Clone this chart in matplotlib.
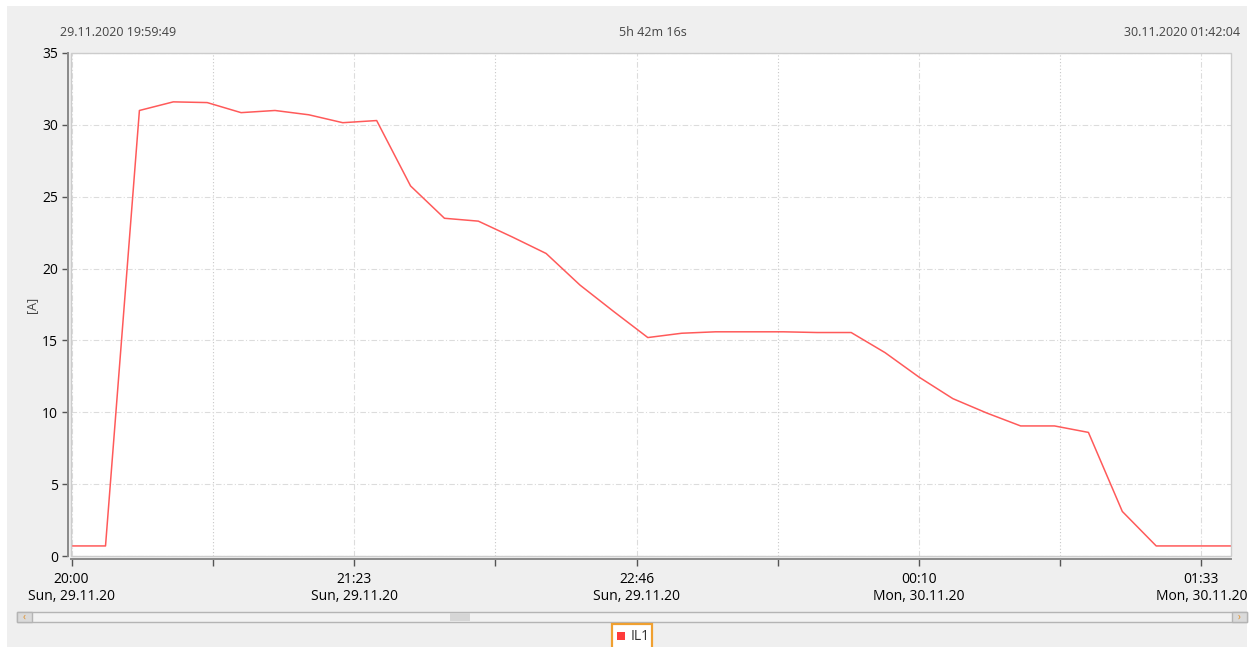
import datetime as dt
import matplotlib
matplotlib.use("Agg")
import matplotlib.pyplot as plt
import matplotlib.dates as mdates
from matplotlib.patches import Rectangle

# measured current IL1, one sample every 10 minutes
times = ["19:50", "20:00", "20:10", "20:20", "20:30", "20:40", "20:50", "21:00", "21:10",
         "21:20", "21:30", "21:40", "21:50", "22:00", "22:10", "22:20", "22:30", "22:40",
         "22:50", "23:00", "23:10", "23:20", "23:30", "23:40", "23:50", "00:00", "00:10",
         "00:20", "00:30", "00:40", "00:50", "01:00", "01:10", "01:20", "01:30", "01:40",
         "01:50"]
il1 = [0.7, 0.7, 0.7, 31.0, 31.6, 31.55, 30.85, 31.0, 30.7,
       30.15, 30.3, 25.75, 23.5, 23.3, 22.2, 21.05, 18.85, 17.0,
       15.2, 15.5, 15.6, 15.6, 15.6, 15.55, 15.55, 14.15, 12.45,
       10.95, 9.95, 9.05, 9.05, 8.6, 3.1, 0.7, 0.7, 0.7,
       0.7]

range_start = "19:59:49"
range_end = "01:42:04"
range_label_left = "29.11.2020 19:59:49"
range_label_mid = "5h 42m 16s"
range_label_right = "30.11.2020 01:42:04"

major_ticks = ["20:00:00", "21:23:20", "22:46:40", "00:10:00", "01:33:20"]
minor_ticks = ["20:41:40", "22:05:00", "23:28:20", "00:51:40"]
tick_labels = ["20:00\nSun, 29.11.20", "21:23\nSun, 29.11.20", "22:46\nSun, 29.11.20",
               "00:10\nMon, 30.11.20", "01:33\nMon, 30.11.20"]
y_ticks = [0, 5, 10, 15, 20, 25, 30, 35]
series_name = "IL1"


def to_dt(s):
    parts = [int(p) for p in s.split(":")]
    while len(parts) < 3:
        parts.append(0)
    day = 29 if parts[0] >= 12 else 30
    return dt.datetime(2020, 11, day, parts[0], parts[1], parts[2])


W, H = 1253, 647
plt.rcParams['font.family'] = ['Open Sans', 'DejaVu Sans']
txt = "#444444"
fig = plt.figure(figsize=(W / 100, H / 100), dpi=100, facecolor="white")

# background / chrome layer in pixel coords
bg = fig.add_axes([0, 0, 1, 1], zorder=-1)
bg.set_xlim(0, W)
bg.set_ylim(H, 0)
bg.axis("off")
bg.add_patch(Rectangle((7, 6), W - 7 - 6, H - 6, facecolor="#efefef", edgecolor="none"))

fs = 9
bg.text(60, 32, range_label_left, fontsize=fs, color=txt, ha="left", va="center")
bg.text(653, 32, range_label_mid, fontsize=fs, color=txt, ha="center", va="center")
bg.text(1240, 32, range_label_right, fontsize=fs, color=txt, ha="right", va="center")
bg.text(32, 305, "[A]", fontsize=fs, color=txt, ha="center", va="center", rotation=90)

# scrollbar
bg.add_patch(Rectangle((17, 612), 1230, 10, facecolor="#f2f2f2", edgecolor="#b4b4b4", lw=1))
bg.add_patch(Rectangle((17, 612), 15, 10, facecolor="#dadada", edgecolor="#b4b4b4", lw=1))
bg.add_patch(Rectangle((1232, 612), 15, 10, facecolor="#dadada", edgecolor="#b4b4b4", lw=1))
bg.add_patch(Rectangle((450, 613), 20, 8, facecolor="#d6d6d6", edgecolor="none"))
bg.text(24.5, 617, "‹", fontsize=7, color="#e08a1e", ha="center", va="center")
bg.text(1239.5, 617, "›", fontsize=7, color="#e08a1e", ha="center", va="center")

# legend box
bg.add_patch(Rectangle((611.5, 624), 40, 26, facecolor="white", edgecolor="#f0a030", lw=1.6))
bg.add_patch(Rectangle((617, 632), 8, 8, facecolor="#ff3b3b", edgecolor="none"))
bg.text(631, 636, series_name, fontsize=10, color="#333333", ha="left", va="center")

# plot area
left, right, top, bottom = 71, 1231, 53, 556
ax = fig.add_axes([left / W, 1 - bottom / H, (right - left) / W, (bottom - top) / H])
ax.set_facecolor("white")

x = [to_dt(t) for t in times]
ax.plot(x, il1, color="#ff5a5a", lw=1.1, zorder=3)

ax.set_xlim(to_dt(range_start), to_dt(range_end))
ax.set_ylim(0, 35)

ax.set_xticks([to_dt(t) for t in major_ticks])
ax.set_xticklabels(tick_labels, fontsize=fs, color=txt, linespacing=1.6)
ax.set_xticks([to_dt(t) for t in minor_ticks], minor=True)
ax.set_yticks(y_ticks)
ax.set_yticklabels([str(v) for v in y_ticks], fontsize=fs, color=txt)

ax.grid(True, which="major", axis="both", color="#dcdcdc", lw=0.8, linestyle=(0, (5, 2, 1, 2)))
ax.grid(True, which="minor", axis="x", color="#c8c8c8", lw=0.8, linestyle=(0, (1, 2)))

for s in ["top", "right"]:
    ax.spines[s].set_visible(False)
for s in ["left", "bottom"]:
    ax.spines[s].set_color("#8a8a8a")
    ax.spines[s].set_linewidth(1.4)
ax.spines["left"].set_position(("outward", 2.2))
ax.spines["bottom"].set_position(("outward", 2.2))
ax.add_patch(Rectangle((0, 0), 1, 1, transform=ax.transAxes, fill=False,
                       edgecolor="#cccccc", lw=1, zorder=4, clip_on=False))

ax.tick_params(axis="x", which="both", length=5, width=1, color="#555555", pad=4)
ax.tick_params(axis="y", which="major", length=4, width=1, color="#555555", pad=3)

fig.savefig("out.png", dpi=100, facecolor="white")
